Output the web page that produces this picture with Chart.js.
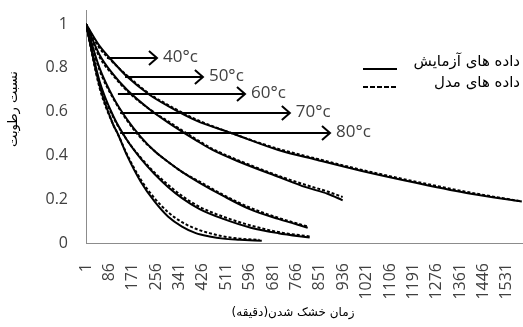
<!DOCTYPE html>
<html><head><meta charset="utf-8">
<script src="https://cdn.jsdelivr.net/npm/chart.js@4.4.0/dist/chart.umd.min.js"></script>
<style>html,body{margin:0;padding:0;background:#fff}#wrap{width:523px;height:327px}</style>
</head><body><div id="wrap"><canvas id="c" width="523" height="327"></canvas></div>
<script>
// ---- data ----
const temperatures = ['40°c', '50°c', '60°c', '70°c', '80°c'];
const xTickLabels = [1, 86, 171, 256, 341, 426, 511, 596, 681, 766, 851, 936, 1021, 1106, 1191, 1276, 1361, 1446, 1531];
const yTickLabels = [0, 0.2, 0.4, 0.6, 0.8, 1];

const exp40Time  = [1, 50, 87, 150, 233, 300, 400, 534, 700, 839, 1000, 1200, 1400, 1585];
const exp40Value = [1, 0.90, 0.845, 0.76, 0.676, 0.625, 0.56, 0.50, 0.425, 0.38, 0.33, 0.275, 0.225, 0.19];
const mod40Time  = [1, 50, 87, 150, 233, 300, 400, 534, 700, 839, 1000, 1200, 1400, 1585];
const mod40Value = [1, 0.89, 0.84, 0.765, 0.68, 0.63, 0.565, 0.50, 0.43, 0.385, 0.335, 0.28, 0.23, 0.19];

const exp50Time  = [1, 50, 100, 150, 233, 300, 400, 461, 560, 705, 800, 879, 934];
const exp50Value = [1, 0.86, 0.77, 0.70, 0.61, 0.55, 0.47, 0.425, 0.37, 0.30, 0.255, 0.225, 0.195];
const mod50Time  = [1, 50, 100, 150, 233, 300, 400, 461, 560, 705, 800, 879, 934];
const mod50Value = [1, 0.85, 0.765, 0.695, 0.61, 0.555, 0.475, 0.43, 0.375, 0.305, 0.265, 0.235, 0.21];

const exp60Time  = [1, 50, 100, 150, 200, 250, 300, 350, 414, 500, 596, 700, 807];
const exp60Value = [1, 0.80, 0.665, 0.565, 0.485, 0.42, 0.37, 0.325, 0.275, 0.215, 0.155, 0.11, 0.07];
const mod60Time  = [1, 50, 100, 150, 200, 250, 300, 350, 414, 500, 596, 700, 807];
const mod60Value = [1, 0.79, 0.66, 0.56, 0.48, 0.42, 0.37, 0.325, 0.28, 0.22, 0.162, 0.115, 0.075];

const exp70Time  = [1, 50, 100, 150, 200, 250, 300, 350, 414, 500, 600, 700, 814];
const exp70Value = [1, 0.74, 0.58, 0.47, 0.385, 0.315, 0.255, 0.205, 0.155, 0.11, 0.07, 0.045, 0.025];
const mod70Time  = [1, 50, 100, 150, 200, 250, 300, 350, 414, 500, 600, 700, 814];
const mod70Value = [1, 0.73, 0.575, 0.47, 0.39, 0.322, 0.265, 0.215, 0.165, 0.12, 0.08, 0.05, 0.03];

const exp80Time  = [1, 50, 100, 116, 150, 200, 250, 300, 350, 400, 450, 500, 560, 640];
const exp80Value = [1, 0.72, 0.54, 0.50, 0.40, 0.28, 0.19, 0.12, 0.075, 0.045, 0.03, 0.02, 0.015, 0.01];
const mod80Time  = [1, 50, 100, 116, 150, 200, 250, 300, 350, 400, 450, 500, 560, 632];
const mod80Value = [1, 0.71, 0.54, 0.50, 0.405, 0.29, 0.205, 0.14, 0.095, 0.065, 0.045, 0.03, 0.02, 0.014];

// arrows (data units: moisture ratio level, start time, tip time)
const arrowLevel = [0.845, 0.758, 0.68, 0.594, 0.502];
const arrowStart = [77, 143, 117, 125, 125];
const arrowTip   = [259, 426, 579, 742, 888];

const legendLabels = ['داده های آزمایش', 'داده های مدل'];
const xTitle = 'زمان خشک شدن(دقیقه)';
const yTitle = 'نسبت رطوبت';

// ---- build ----
function pts(t, v) { return t.map((x, i) => ({x: x, y: v[i]})); }
const expSets = [[exp40Time, exp40Value], [exp50Time, exp50Value], [exp60Time, exp60Value], [exp70Time, exp70Value], [exp80Time, exp80Value]];
const modSets = [[mod40Time, mod40Value], [mod50Time, mod50Value], [mod60Time, mod60Value], [mod70Time, mod70Value], [mod80Time, mod80Value]];
const datasets = [];
expSets.forEach((s, i) => datasets.push({label: 'exp ' + temperatures[i], data: pts(s[0], s[1]), borderColor: '#000', borderWidth: 2, pointRadius: 0, cubicInterpolationMode: 'monotone', fill: false}));
modSets.forEach((s, i) => datasets.push({label: 'model ' + temperatures[i], data: pts(s[0], s[1]), borderColor: '#000', borderWidth: 2, borderDash: [3, 2], pointRadius: 0, cubicInterpolationMode: 'monotone', fill: false}));

const annot = {
  id: 'annot',
  afterDatasetsDraw(chart) {
    const ctx = chart.ctx, xs = chart.scales.x, ys = chart.scales.y;
    ctx.save();
    ctx.strokeStyle = '#000'; ctx.lineWidth = 2; ctx.lineCap = 'butt';
    ctx.font = '17px "Open Sans"'; ctx.fillStyle = '#404040'; ctx.textBaseline = 'middle'; ctx.textAlign = 'left';
    arrowLevel.forEach((lv, i) => {
      const y = Math.round(ys.getPixelForValue(lv));
      const x0 = xs.getPixelForValue(arrowStart[i]), x1 = xs.getPixelForValue(arrowTip[i]);
      ctx.beginPath(); ctx.moveTo(x0, y); ctx.lineTo(x1, y); ctx.stroke();
      ctx.beginPath(); ctx.moveTo(x1 - 8, y - 7); ctx.lineTo(x1, y); ctx.lineTo(x1 - 8, y + 7); ctx.stroke();
      ctx.fillText(temperatures[i], x1 + 6, y - 1);
    });
    // legend
    ctx.lineWidth = 2;
    ctx.beginPath(); ctx.moveTo(363, 69); ctx.lineTo(397, 69); ctx.stroke();
    ctx.setLineDash([5, 2]);
    ctx.beginPath(); ctx.moveTo(363, 87); ctx.lineTo(397, 87); ctx.stroke();
    ctx.setLineDash([]);
    ctx.fillStyle = '#000'; ctx.font = '15px "DejaVu Sans"'; ctx.direction = 'rtl'; ctx.textAlign = 'right';
    ctx.fillText(legendLabels[0], 520, 62);
    ctx.fillText(legendLabels[1], 520, 83);
    // axis titles
    ctx.font = '12px "DejaVu Sans"'; ctx.textAlign = 'center';
    ctx.fillText(xTitle, 293, 313);
    ctx.translate(14, 109); ctx.rotate(-Math.PI / 2);
    ctx.font = '13px "DejaVu Sans"';
    ctx.fillText(yTitle, 0, 0);
    ctx.restore();
  }
};

new Chart(document.getElementById('c'), {
  type: 'line',
  data: {datasets: datasets},
  options: {
    responsive: false, animation: false, devicePixelRatio: 1,
    layout: {padding: {top: 10, right: 1, left: 0, bottom: 0}},
    plugins: {legend: {display: false}, tooltip: {enabled: false}},
    scales: {
      x: {
        type: 'linear', min: 1, max: 1586,
        afterBuildTicks(s) { s.ticks = xTickLabels.map(v => ({value: v})); },
        afterFit(s) { s.height = 84; s.paddingLeft = 0; s.paddingRight = 0; },
        grid: {display: false, drawTicks: false},
        border: {display: true, color: '#8c8c8c', width: 1},
        ticks: {autoSkip: false, maxRotation: 90, minRotation: 90, padding: 20, color: '#404040', font: {family: 'Open Sans', size: 16}, callback: v => String(v)}
      },
      y: {
        type: 'linear', min: 0, max: 1.064,
        afterBuildTicks(s) { s.ticks = yTickLabels.map(v => ({value: v})); },
        afterFit(s) { s.width = 86; s.paddingTop = 0; s.paddingBottom = 0; },
        grid: {display: false, drawTicks: false},
        border: {display: true, color: '#8c8c8c', width: 1},
        ticks: {padding: 18, color: '#404040', font: {family: 'Open Sans', size: 16}, callback: v => String(v)}
      }
    }
  },
  plugins: [annot]
});
</script></body></html>
